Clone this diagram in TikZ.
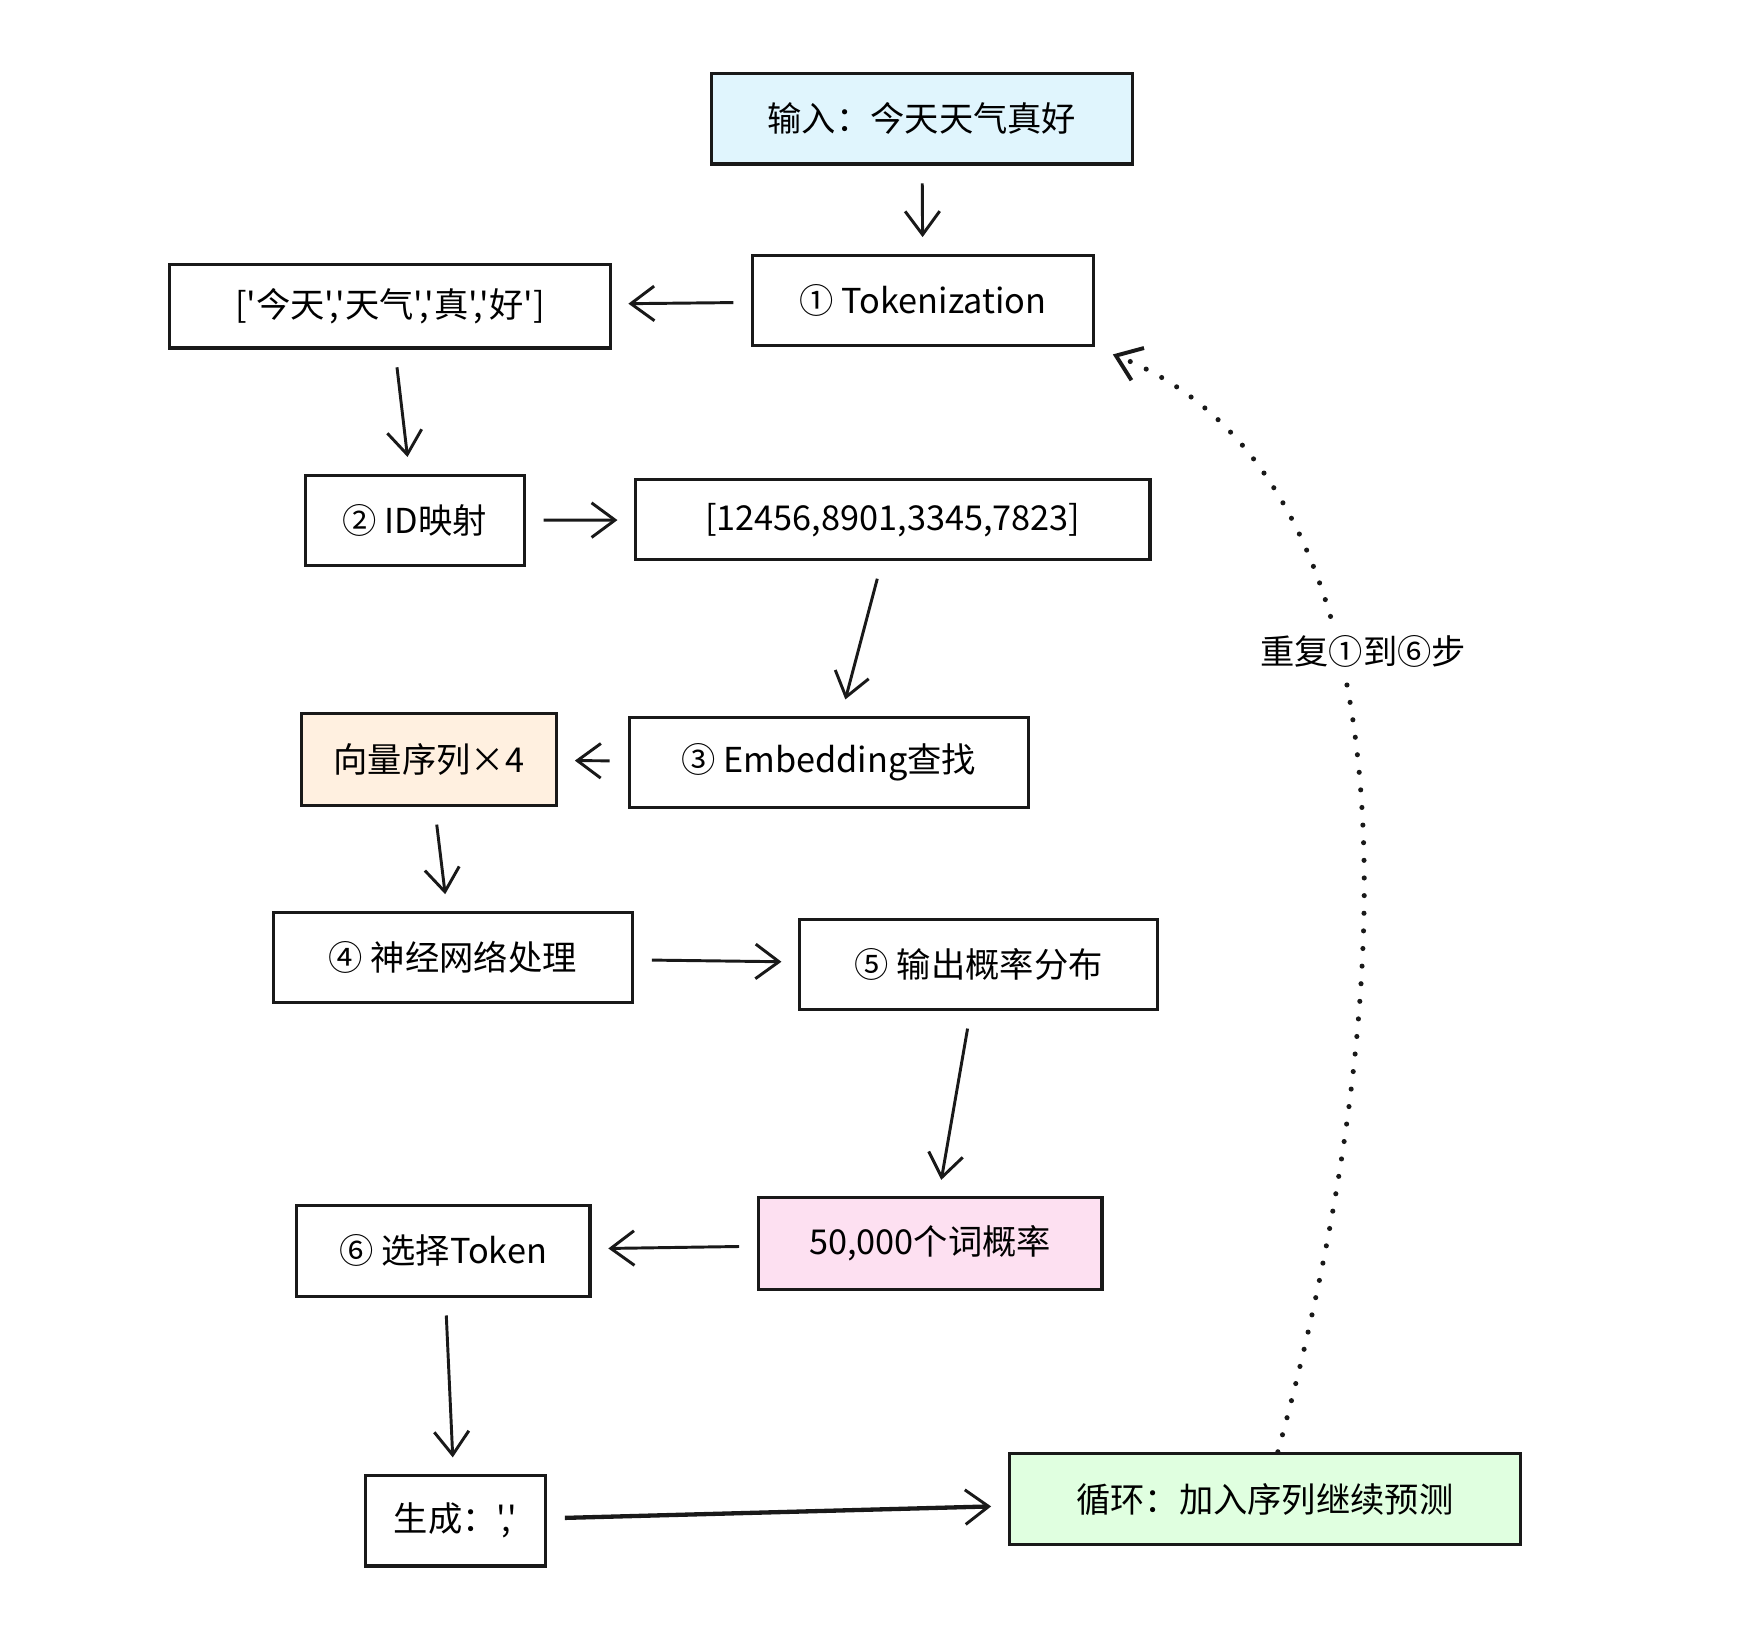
\documentclass[tikz,border=0pt]{standalone}
\usepackage{fontspec}
\setmainfont{Noto Sans CJK SC}[Ligatures=TeXOff]
\usetikzlibrary{arrows.meta}

\begin{document}
\begin{tikzpicture}[x=0.02cm,y=-0.02cm]
    \tikzset{
    box/.style={draw=black!90,line width=1.6pt,inner sep=0pt,font=\fontsize{17.5}{21}\selectfont},
    c1/.style={-{Straight Barb[length=0.42cm,width=0.62cm,line width=1.5pt]},line width=1.5pt,black!90,shorten <=0.32cm,shorten >=0.3cm},
    c2/.style={c1,line width=2.2pt},
    c3/.style={-{Straight Barb[length=0.42cm,width=0.62cm,line width=2pt]},line width=2.6pt,dash pattern=on 0pt off 9pt,line cap=round,black!90,shorten >=0.35cm},
    }
    \useasboundingbox (0,0) rectangle (1560,1470);

    \node[box,fill=cyan!12,minimum width=377*0.02cm,minimum height=81*0.02cm] (in) at (826.5,106.5) {输入：今天天气真好};
    \node[box,minimum width=305*0.02cm,minimum height=81*0.02cm] (tok) at (827.5,269.5) {① Tokenization};
    \node[box,minimum width=395*0.02cm,minimum height=75*0.02cm] (lst) at (349.5,274.5) {['今天','天气','真','好']};
    \node[box,minimum width=196*0.02cm,minimum height=81*0.02cm] (id) at (372,466.5) {② ID映射};
    \node[box,minimum width=461*0.02cm,minimum height=72*0.02cm] (ids) at (800.5,466) {[12456,8901,3345,7823]};
    \node[box,minimum width=358*0.02cm,minimum height=81*0.02cm] (emb) at (743,683.5) {③ Embedding查找};
    \node[box,fill=orange!12,minimum width=229*0.02cm,minimum height=82*0.02cm] (vec) at (384.5,681) {向量序列×4};
    \node[box,minimum width=322*0.02cm,minimum height=81*0.02cm] (nn) at (406,858.5) {④ 神经网络处理};
    \node[box,minimum width=321*0.02cm,minimum height=81*0.02cm] (out) at (877.5,864.5) {⑤ 输出概率分布};
    \node[box,fill=magenta!12,minimum width=308*0.02cm,minimum height=82*0.02cm] (prob) at (834,1115) {50,000个词概率};
    \node[box,minimum width=263*0.02cm,minimum height=81*0.02cm] (sel) at (397.5,1121.5) {⑥ 选择Token};
    \node[box,minimum width=161*0.02cm,minimum height=81*0.02cm] (gen) at (408.5,1363.5) {生成：','};
    \node[box,fill=green!12,minimum width=458*0.02cm,minimum height=82*0.02cm] (loop) at (1134,1344) {循环：加入序列继续预测};

    \draw[c1] (in) edge (tok);
    \draw[c1] (tok) edge (lst);
    \draw[c1] (lst) edge (id);
    \draw[c1] (id) edge (ids);
    \draw[c1] (ids) edge (emb);
    \draw[c1] (emb) edge (vec);
    \draw[c1] (vec) edge (nn);
    \draw[c1] (nn) edge (out);
    \draw[c1] (out) edge (prob);
    \draw[c1] (prob) edge (sel);
    \draw[c1] (sel) edge (gen);
    \draw[c2] (gen) edge (loop);

    \draw[c3] (loop) .. controls (1270,850) and (1260,420) .. (tok.south east);
    \node[fill=white,inner sep=3pt,font=\fontsize{17.5}{21}\selectfont] (rep) at (1222,584) {重复①到⑥步};

\end{tikzpicture}
\end{document}
